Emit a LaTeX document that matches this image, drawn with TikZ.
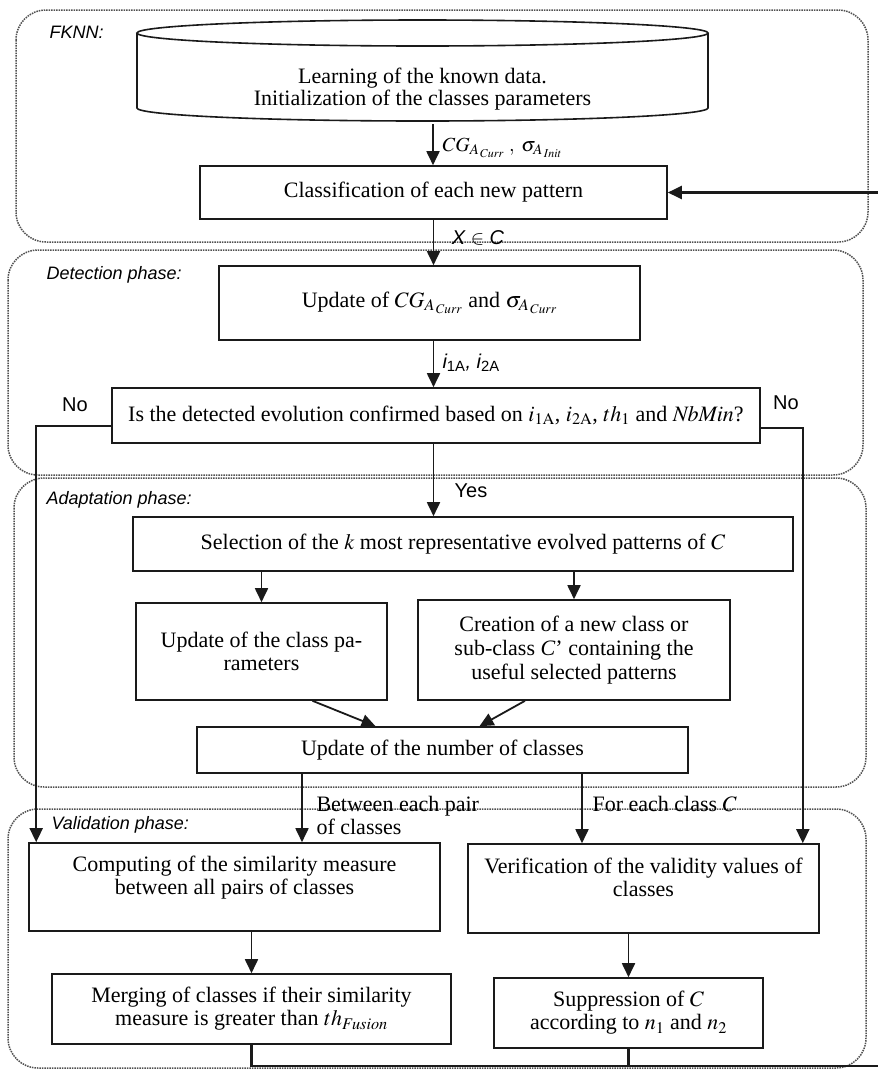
\documentclass[tikz,border=0pt]{standalone}
\usepackage{mathptmx}
\usepackage{fontspec}
\setmainfont{Liberation Serif}
\setsansfont{Liberation Sans}
\usepackage{tikz}
\usetikzlibrary{arrows.meta}
\definecolor{PanelGray}{HTML}{505050}
\definecolor{InkLine}{HTML}{1A1A1A}

\tikzset{
  stepbox/.style={draw=InkLine,line width=1.6pt,align=center,inner sep=4pt,font=\fontsize{22}{23}\selectfont},
  phase/.style={draw=PanelGray,densely dotted,line width=1.5pt,rounded corners=30pt},
  phaselbl/.style={anchor=west,font=\fontsize{18}{20}\selectfont\sffamily\itshape},
  flow/.style={draw=InkLine,line width=1.8pt,-{Triangle[length=14pt,width=13pt]}},
  tag/.style={font=\fontsize{20}{22}\selectfont\sffamily},
  serifnote/.style={anchor=west,align=left,font=\fontsize{22}{23}\selectfont}
}

\begin{document}
\begin{tikzpicture}[x=1pt,y=-1pt]
  \fill[white] (0,0) rectangle (878,1072);
  \useasboundingbox (0,0) rectangle (878,1072);

  % phase frames
  \draw[phase] (16,10) rectangle (868,242);
  \draw[phase] (8,250) rectangle (863,475);
  \draw[phase] (14,478) rectangle (866,787);
  \draw[phase] (8,809) rectangle (866,1068);
  \node[phaselbl] (lfknn) at (46,32) {FKNN:};
  \node[phaselbl] (ldetect) at (43,275) {Detection phase:};
  \node[phaselbl] (ladapt) at (43,500) {Adaptation phase:};
  \node[phaselbl] (lvalid) at (48,825) {Validation phase:};

  % data store
  \draw[InkLine,line width=1.6pt] (137,33) -- (137,108) arc[start angle=180,end angle=0,x radius=285.5,y radius=13] -- (708,33);
  \draw[InkLine,line width=1.6pt] (422.5,33) ellipse[x radius=285.5,y radius=13];
  \node[align=center,font=\fontsize{22}{18}\selectfont] (learn) at (422.5,89) {Learning of the known data.\\Initialization of the classes parameters};
  \coordinate (learnbot) at (433,124);

  % steps
  \node[stepbox,minimum width=467pt,minimum height=53pt] (classify) at (433.5,192.5) {Classification of each new pattern};
  \node[stepbox,minimum width=421pt,minimum height=74pt] (updcg) at (429.5,303) {Update of $CG_{A_{\,Curr}}$ and $\sigma_{A_{\,Curr}}$};
  \node[stepbox,minimum width=648pt,minimum height=55pt] (confirm) at (436,415.5) {Is the detected evolution confirmed based on $i_{\mathrm{1A}}$, $i_{\mathrm{2A}}$, $th_1$ and $\mathit{NbMin}$?};
  \node[stepbox,minimum width=660pt,minimum height=54pt] (select) at (463,544) {Selection of the $k$ most representative evolved patterns of $C$};
  \node[stepbox,minimum width=251pt,minimum height=97pt] (updpar) at (261.5,651.5) {Update of the class pa-\\rameters};
  \node[stepbox,minimum width=312pt,minimum height=100pt,font=\fontsize{22}{24}\selectfont] (create) at (574,650) {Creation of a new class or\\sub-class \textit{C}’ containing the\\useful selected patterns};
  \node[stepbox,minimum width=491pt,minimum height=46pt] (nbclass) at (442.5,750) {Update of the number of classes};
  \node[stepbox,minimum width=411pt,minimum height=88pt] (compute) at (234.5,887) {Computing of the similarity measure\\between all pairs of classes\\ \mbox{}};
  \node[stepbox,minimum width=351pt,minimum height=89pt] (verify) at (643.5,888.5) {Verification of the validity values of\\classes\\ \mbox{}};
  \node[stepbox,minimum width=399pt,minimum height=70pt] (merge) at (251.5,1009) {Merging of classes if their similarity\\measure is greater than $th_{\mathit{Fusion}}$};
  \node[stepbox,minimum width=269pt,minimum height=70pt] (suppress) at (628.5,1013) {Suppression of $C$\\according to $n_1$ and $n_2$};

  % main flow
  \draw[flow] (learnbot) -- (learnbot |- classify.north);
  \node[anchor=west,font=\fontsize{20}{22}\selectfont] (lblcg) at (439,148) {$CG_{A_{\,Curr}}\;,\;\sigma_{A_{\,Init}}$};
  \draw[flow] (classify.south) -- (classify.south |- updcg.north);
  \node[tag] (lblxc) at (478,238) {\itshape X $\in$ C};
  \draw[flow] (classify.south |- updcg.south) -- (classify.south |- confirm.north);
  \node[tag,anchor=west] (lblia) at (439,363) {\itshape i\textsubscript{\upshape 1A}, i\textsubscript{\upshape 2A}};
  \draw[flow] (classify.south |- confirm.south) -- (classify.south |- select.north);
  \node[tag] (lblyes) at (471,491) {Yes};
  \draw[flow] (updpar.north |- select.south) -- (updpar.north);
  \draw[flow] (create.north |- select.south) -- (create.north);
  \draw[flow] ([xshift=51pt]updpar.south) -- ([xshift=-67pt]nbclass.north);
  \draw[flow] ([xshift=-49pt]create.south) -- ([xshift=37pt]nbclass.north);

  % towards validation
  \coordinate (pairtop) at ([xshift=-140.5pt]nbclass.south);
  \coordinate (eachtop) at ([xshift=139.5pt]nbclass.south);
  \draw[flow] (pairtop) -- (pairtop |- compute.north);
  \draw[flow] (eachtop) -- (eachtop |- verify.north);
  \node[serifnote] (lblpair) at (313,815.5) {Between each pair\\of classes};
  \node[serifnote] (lbleach) at (589,804) {For each class $C$};
  \draw[flow] ([yshift=-10.5pt]confirm.west) -| ([xshift=8pt]compute.north west);
  \draw[flow] ([yshift=-12.5pt]confirm.east) -| ([xshift=-17pt]verify.north east);
  \node[tag] (lblnol) at (75,405) {No};
  \node[tag] (lblnor) at (786,403) {No};

  % validation
  \draw[flow] (merge.north |- compute.south) -- (merge.north);
  \draw[flow] (suppress.north |- verify.south) -- (suppress.north);

  % back to classification
  \coordinate (retcorner) at (880,1066);
  \draw[flow,line width=2.2pt] (merge.south) |- (retcorner) |- (classify.east);
  \draw[InkLine,line width=2.2pt] (suppress.south) -- (suppress.south |- retcorner);
\end{tikzpicture}
\end{document}
